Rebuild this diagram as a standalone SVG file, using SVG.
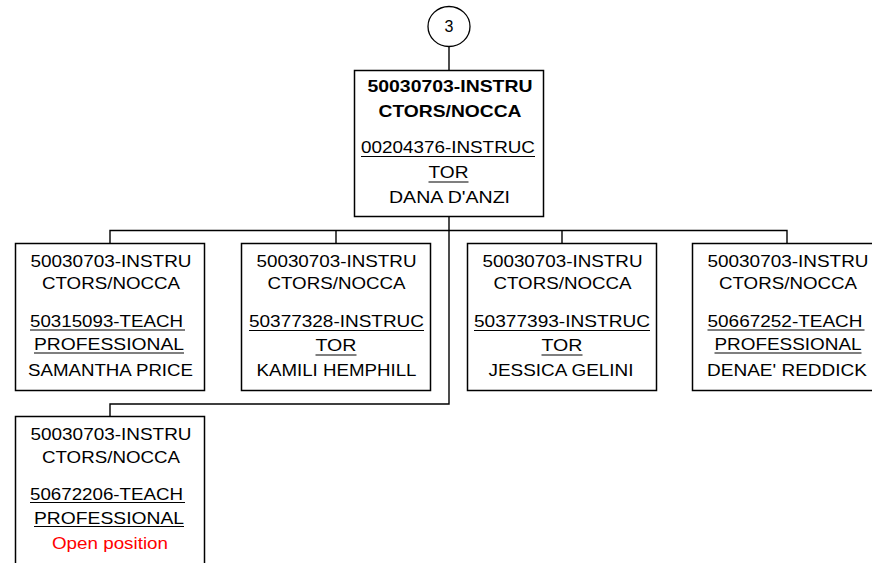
<svg xmlns="http://www.w3.org/2000/svg" width="872" height="563" viewBox="0 0 872 563">
<style>
.bg{fill:#fff}
.box{fill:#fff;stroke:#000;stroke-width:1.5}
.con{fill:none;stroke:#000;stroke-width:1.4}
.t{font-family:"Liberation Sans",Arial,sans-serif;font-size:16.5px;fill:#000;text-anchor:middle}
.s{text-anchor:start}
.b{font-weight:bold}
.red{fill:#ff0000}
.u{stroke:#000;stroke-width:1.2}
</style>
<rect class="bg" x="0" y="0" width="872" height="563"/>
<g id="connectors">
<path class="con" d="M449 46.5 V70.5"/>
<path class="con" d="M449 216.5 V404 H110 V416.5"/>
<path class="con" d="M110 243.5 V230.5 H787 V243.5"/>
<path class="con" d="M336 230.5 V243.5"/>
<path class="con" d="M562 230.5 V243.5"/>
</g>
<g id="node-3">
<ellipse cx="449" cy="26.5" rx="21" ry="20" fill="#fff" stroke="#000" stroke-width="1.3"/>
<text class="t" x="449" y="32" style="font-size:16px">3</text>
</g>
<g id="node-top">
<rect class="box" x="354.5" y="70.5" width="189" height="146"/>
<text class="t b" x="450" y="92" textLength="165" lengthAdjust="spacingAndGlyphs">50030703-INSTRU</text>
<text class="t b" x="450" y="117" textLength="143" lengthAdjust="spacingAndGlyphs">CTORS/NOCCA</text>
<text class="t" x="448" y="153" textLength="174" lengthAdjust="spacingAndGlyphs">00204376-INSTRUC</text>
<line class="u" x1="361" y1="156.5" x2="535" y2="156.5"/>
<text class="t" x="448.5" y="178" textLength="40" lengthAdjust="spacingAndGlyphs">TOR</text>
<line class="u" x1="428.5" y1="182" x2="468.5" y2="182"/>
<text class="t" x="449.5" y="203" textLength="121" lengthAdjust="spacingAndGlyphs">DANA D'ANZI</text>
</g>
<g id="node-price">
<rect class="box" x="15.5" y="243.5" width="189" height="147"/>
<text class="t" x="111" y="266.5" textLength="161" lengthAdjust="spacingAndGlyphs">50030703-INSTRU</text>
<text class="t" x="111" y="289" textLength="138" lengthAdjust="spacingAndGlyphs">CTORS/NOCCA</text>
<text class="t s" x="30" y="327" textLength="153" lengthAdjust="spacingAndGlyphs">50315093-TEACH</text>
<line class="u" x1="30" y1="330" x2="185" y2="330"/>
<text class="t" x="109" y="350" textLength="150" lengthAdjust="spacingAndGlyphs">PROFESSIONAL</text>
<line class="u" x1="34" y1="353" x2="184" y2="353"/>
<text class="t" x="110.5" y="376" textLength="165" lengthAdjust="spacingAndGlyphs">SAMANTHA PRICE</text>
</g>
<g id="node-hemphill">
<rect class="box" x="241.5" y="243.5" width="189" height="147"/>
<text class="t" x="336.5" y="266.5" textLength="160" lengthAdjust="spacingAndGlyphs">50030703-INSTRU</text>
<text class="t" x="336.5" y="289" textLength="138" lengthAdjust="spacingAndGlyphs">CTORS/NOCCA</text>
<text class="t" x="336.5" y="327" textLength="175" lengthAdjust="spacingAndGlyphs">50377328-INSTRUC</text>
<line class="u" x1="249" y1="330.5" x2="424" y2="330.5"/>
<text class="t" x="336" y="351" textLength="41" lengthAdjust="spacingAndGlyphs">TOR</text>
<line class="u" x1="315.5" y1="355" x2="356.5" y2="355"/>
<text class="t" x="336.5" y="376" textLength="160" lengthAdjust="spacingAndGlyphs">KAMILI HEMPHILL</text>
</g>
<g id="node-gelini">
<rect class="box" x="467.5" y="243.5" width="189" height="147"/>
<text class="t" x="562.5" y="266.5" textLength="160" lengthAdjust="spacingAndGlyphs">50030703-INSTRU</text>
<text class="t" x="562.5" y="289" textLength="138" lengthAdjust="spacingAndGlyphs">CTORS/NOCCA</text>
<text class="t" x="562" y="327" textLength="176" lengthAdjust="spacingAndGlyphs">50377393-INSTRUC</text>
<line class="u" x1="474" y1="330.5" x2="650" y2="330.5"/>
<text class="t" x="562" y="351" textLength="41" lengthAdjust="spacingAndGlyphs">TOR</text>
<line class="u" x1="541.5" y1="355" x2="582.5" y2="355"/>
<text class="t" x="561" y="376" textLength="145" lengthAdjust="spacingAndGlyphs">JESSICA GELINI</text>
</g>
<g id="node-reddick">
<rect class="box" x="692.5" y="243.5" width="189" height="147"/>
<text class="t" x="788" y="266.5" textLength="161" lengthAdjust="spacingAndGlyphs">50030703-INSTRU</text>
<text class="t" x="788" y="289" textLength="138" lengthAdjust="spacingAndGlyphs">CTORS/NOCCA</text>
<text class="t s" x="707.5" y="327" textLength="155" lengthAdjust="spacingAndGlyphs">50667252-TEACH</text>
<line class="u" x1="707.5" y1="330" x2="864.5" y2="330"/>
<text class="t" x="788" y="350" textLength="147" lengthAdjust="spacingAndGlyphs">PROFESSIONAL</text>
<line class="u" x1="714.5" y1="353" x2="861.5" y2="353"/>
<text class="t" x="787" y="376" textLength="160" lengthAdjust="spacingAndGlyphs">DENAE' REDDICK</text>
</g>
<g id="node-open">
<rect class="box" x="15.5" y="416.5" width="189" height="150"/>
<text class="t" x="111" y="439.5" textLength="161" lengthAdjust="spacingAndGlyphs">50030703-INSTRU</text>
<text class="t" x="111" y="463" textLength="138" lengthAdjust="spacingAndGlyphs">CTORS/NOCCA</text>
<text class="t s" x="30" y="499.5" textLength="153" lengthAdjust="spacingAndGlyphs">50672206-TEACH</text>
<line class="u" x1="30" y1="502.5" x2="185" y2="502.5"/>
<text class="t" x="109" y="523.5" textLength="150" lengthAdjust="spacingAndGlyphs">PROFESSIONAL</text>
<line class="u" x1="34" y1="526.5" x2="184" y2="526.5"/>
<text class="t red" x="110" y="549" textLength="116" lengthAdjust="spacingAndGlyphs">Open position</text>
</g>
</svg>
